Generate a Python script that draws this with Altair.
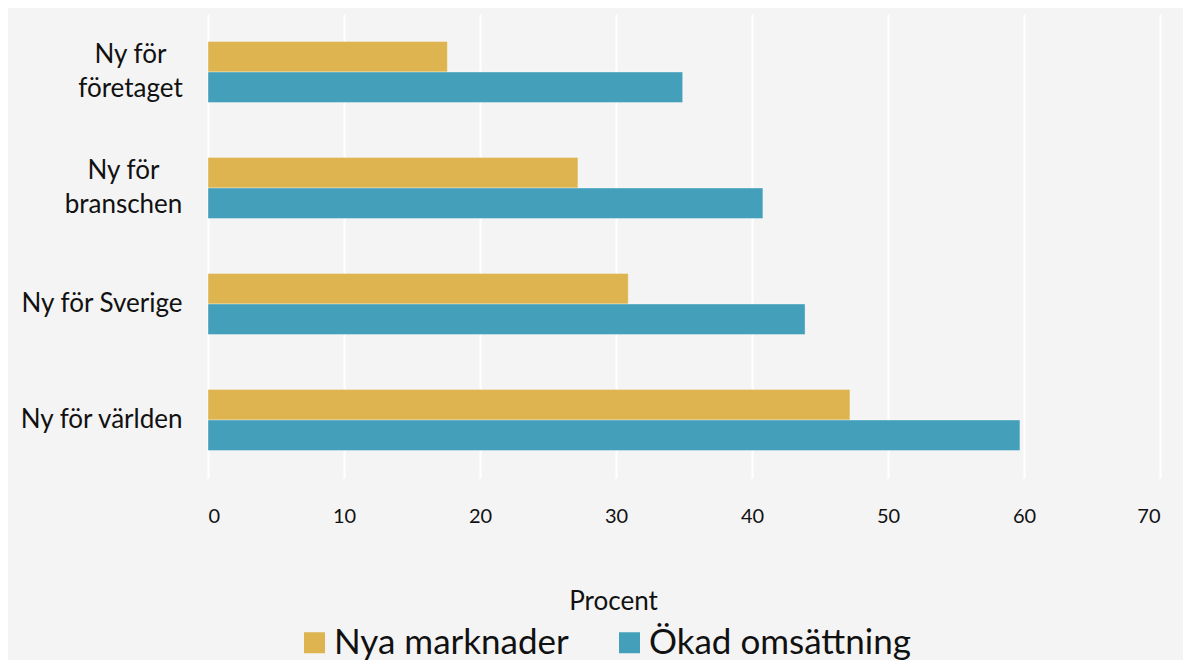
import altair as alt
import pandas as pd

categories = ["Ny för|företaget", "Ny för|branschen", "Ny för Sverige", "Ny för världen"]
series = ["Nya marknader", "Ökad omsättning"]
nya_marknader = [17.6, 27.2, 30.9, 47.2]
okad_omsattning = [34.9, 40.8, 43.9, 59.7]
colors = ["#DDB44F", "#44A0BA"]
x_ticks = [0, 10, 20, 30, 40, 50, 60, 70]

rows = []
for i, c in enumerate(categories):
    rows.append({"kategori": c, "serie": series[0], "varde": nya_marknader[i]})
    rows.append({"kategori": c, "serie": series[1], "varde": okad_omsattning[i]})
df = pd.DataFrame(rows)

FONT = "Lato"
MULTI = "indexof(datum.label, '|') >= 0"

chart = alt.Chart(df).mark_bar(strokeWidth=1, strokeOpacity=0.35, stroke="#ffffff").encode(
    y=alt.Y("kategori:N", sort=categories,
            scale=alt.Scale(paddingInner=0.474, paddingOuter=0.237),
            axis=alt.Axis(title=None, domain=False, ticks=False,
                          labelFontSize=26, labelLineHeight=34, labelColor="#111111",
                          labelFont=FONT, labelExpr="split(datum.label, '|')",
                          labelAlign={"condition": {"test": MULTI, "value": "center"}, "value": "right"},
                          labelPadding={"condition": [
                              {"test": "datum.label == 'Ny för|företaget'", "value": 78},
                              {"test": "datum.label == 'Ny för|branschen'", "value": 85}],
                              "value": 26},
                          labelOffset={"condition": {"test": MULTI, "value": -17}, "value": 0})),
    yOffset=alt.YOffset("serie:N", sort=series, scale=alt.Scale(paddingInner=0, paddingOuter=0)),
    x=alt.X("varde:Q", scale=alt.Scale(domain=[0, 70], nice=False),
            axis=alt.Axis(values=x_ticks, title="Procent", domain=False, ticks=False,
                          grid=True, gridColor="#ffffff", gridWidth=2,
                          labelPadding=28, labelFontSize=20, labelColor="#111111", labelFont=FONT,
                          titleFont=FONT, titleFontSize=26, titleFontWeight="normal",
                          titleColor="#111111", titleX=405, titleY=131,
                          titleAlign="center", titleBaseline="alphabetic")),
    color=alt.Color("serie:N", sort=series,
                    scale=alt.Scale(domain=series, range=colors),
                    legend=alt.Legend(title=None, orient="none", legendX=89, legendY=611,
                                      direction="horizontal", columns=2, columnPadding=43,
                                      symbolType="square", symbolSize=441, symbolStrokeWidth=0,
                                      labelFont=FONT, labelFontSize=35, labelColor="#111111",
                                      labelOffset=2, labelLimit=400)),
).properties(
    width=952, height=464,
    background="#F4F4F4",
    autosize=alt.AutoSizeParams(type="none"),
    padding={"left": 200, "top": 6, "right": 23, "bottom": 182},
).configure_view(stroke=None)

chart.save("out.html", embed_options={"renderer": "svg", "actions": False})
